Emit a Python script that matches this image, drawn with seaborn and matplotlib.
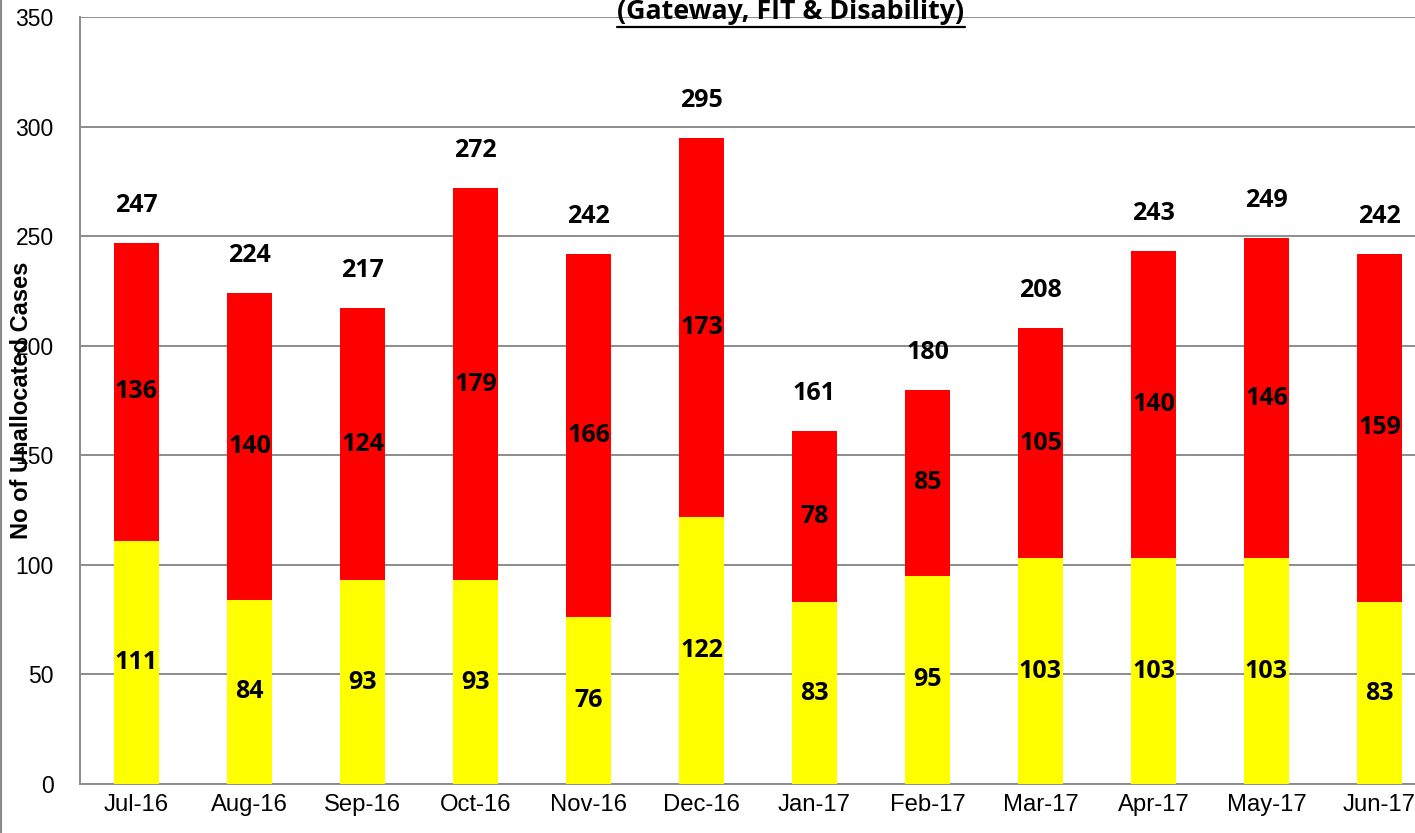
import matplotlib
matplotlib.use("Agg")
import matplotlib.pyplot as plt
from matplotlib.lines import Line2D
import seaborn as sns
import pandas as pd

months = ["Jul-16", "Aug-16", "Sep-16", "Oct-16", "Nov-16", "Dec-16",
          "Jan-17", "Feb-17", "Mar-17", "Apr-17", "May-17", "Jun-17"]
lower = [111, 84, 93, 93, 76, 122, 83, 95, 103, 103, 103, 83]
upper = [136, 140, 124, 179, 166, 173, 78, 85, 105, 140, 146, 159]
totals = [a + b for a, b in zip(lower, upper)]

df = pd.DataFrame({"month": months, "lower": lower, "upper": upper, "total": totals})

sns.set_style("white")
plt.rcParams["font.family"] = ["Liberation Sans", "DejaVu Sans"]
plt.rcParams["text.color"] = "black"
plt.rcParams["axes.labelcolor"] = "black"

W, H = 1415, 833
fig = plt.figure(figsize=(W / 100, H / 100), dpi=100)
ax = fig.add_axes([80 / W, 49 / H, 1356 / W, 767 / H])

grey = "#8c8c8c"
sns.barplot(data=df, x="month", y="total", color="#ff0000", saturation=1,
            width=0.4, linewidth=0, ax=ax, zorder=2)
sns.barplot(data=df, x="month", y="lower", color="#ffff00", saturation=1,
            width=0.4, linewidth=0, ax=ax, zorder=3)

ax.set_ylim(0, 350)
ax.set_xlim(-0.5, len(months) - 0.5)
ax.set_yticks(range(0, 351, 50))
ax.grid(axis="y", color=grey, linewidth=1.4, zorder=0)
ax.set_axisbelow(True)
for s in ["top", "right"]:
    ax.spines[s].set_visible(False)
for s in ["left", "bottom"]:
    ax.spines[s].set_color(grey)
    ax.spines[s].set_linewidth(1.4)
ax.tick_params(axis="y", length=6, width=1.4, color=grey, pad=13, labelsize=16.5,
               labelcolor="black")
ax.tick_params(axis="x", length=6, width=1.4, color=grey, pad=7, labelsize=17.2,
               labelcolor="black")
ax.set_xticks([i + 0.5 for i in range(len(months))], minor=True)
ax.tick_params(axis="x", which="major", length=0)
ax.tick_params(axis="x", which="minor", length=6, width=1.4, color=grey)
ax.set_xlabel("")
ax.set_ylabel("No of Unallocated Cases", fontsize=17, fontweight="bold", va="center",
              color="black")
ax.yaxis.set_label_coords(-58 / 1356, 0.5)

lab = dict(family=["Open Sans", "DejaVu Sans"], fontweight="bold", fontsize=18,
           ha="center", va="center", color="black", zorder=5)
for i in range(len(months)):
    ax.text(i, lower[i] / 2, str(lower[i]), **lab)
    ax.text(i, lower[i] + upper[i] / 2, str(upper[i]), **lab)
    ax.annotate(str(totals[i]), (i, totals[i]), xytext=(0, 27),
                textcoords="offset points", **lab)

title = fig.text(791 / W, 1 - 12 / H, "(Gateway, FIT & Disability)",
                 family=["Open Sans", "DejaVu Sans"], fontweight="bold", fontsize=19.3,
                 ha="center", va="center", color="black")
fig.canvas.draw()
bb = title.get_window_extent()
fig.add_artist(Line2D([bb.x0 / W, bb.x1 / W], [1 - 27 / H, 1 - 27 / H],
                      transform=fig.transFigure, color="black", linewidth=1.6))
fig.add_artist(Line2D([1 / W, 1 / W], [0, 1], transform=fig.transFigure,
                      color=grey, linewidth=1.5))

fig.savefig("out.png", dpi=100)
